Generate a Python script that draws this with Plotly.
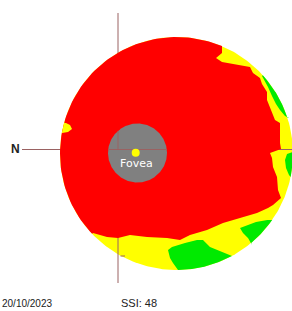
import numpy as np
import plotly.graph_objects as go

# ---- scan geometry (map units = reference image pixels, y downward) ----
SCAN_CENTER = (176.5, 153.5)
SCAN_RADIUS = 116.5

# ---- thickness-map regions (boundaries) ----
# red (below normal) region: inner boundary, from the top edge clockwise to the lower-left edge
RED_X = [219, 222, 222, 216, 222, 240, 250, 253, 260, 262, 267, 267, 270, 275, 280, 280, 281,
         270, 272, 273, 277, 278, 281, 273, 268, 257, 240, 223, 207, 190, 180, 167, 147, 130,
         118, 107, 93]
RED_Y = [45, 46, 53, 58, 62, 65, 67, 73, 78, 84, 92, 100, 108, 120, 123, 143, 149,
         153, 158, 167, 177, 190, 198, 205, 208, 213, 218, 223, 230, 235, 240, 238, 237, 235,
         238, 237, 233]

# green (normal) patches
GREEN_TR_X = [262, 265, 268, 272, 276, 280, 285, 289]
GREEN_TR_Y = [76, 81, 87, 96, 104, 110, 116, 118]
GREEN_R_X = [292.5, 287, 285, 286, 289, 290.5]
GREEN_R_Y = [152, 154, 160, 168, 175, 177]
GREEN_BR_X = [273, 256, 240, 243, 248, 252]
GREEN_BR_Y = [219, 222, 228, 233, 238, 245]
GREEN_B_X = [232, 225, 218, 210, 203, 197, 185, 172, 168, 170, 173, 176, 178]
GREEN_B_Y = [256, 253, 250, 247, 240, 240, 243, 247, 250, 258, 263, 268, 270]

# small yellow notch on the nasal edge
NOTCH_X = [64, 70, 72, 68, 62]
NOTCH_Y = [122, 125, 129, 132, 133]

# fovea
FOVEA_CENTER = (137.5, 153)
FOVEA_RADIUS = 29.5
FOVEA_DOT = (135.7, 152.8)

# crosshair
CROSS_X = 118
CROSS_Y = 149.5
CROSS_V_SPAN = (13, 283)
CROSS_H_SPAN = (22, 292)
TICK_X = (120.5, 125)
TICK_Y = 256

# labels
DATE_TEXT = "20/10/2023"
SSI_TEXT = "SSI: 48"
SIDE_LABEL = "N"

RED = "#ff0000"
YELLOW = "#ffff00"
GREEN = "#00ea00"
GRAY = "#808080"
LINE = "#9a6262"

CX, CY = SCAN_CENTER
R = SCAN_RADIUS


def ang(p):
    return np.degrees(np.arctan2(p[1] - CY, p[0] - CX))


def arc(p_from, p_to, direction, n=90):
    a0, a1 = ang(p_from), ang(p_to)
    span = (a1 - a0) % 360 if direction > 0 else -((a0 - a1) % 360)
    t = np.radians(np.linspace(a0, a0 + span, n))
    return list(CX + R * np.cos(t)), list(CY + R * np.sin(t))


def region(xs, ys, direction):
    ax, ay = arc((xs[-1], ys[-1]), (xs[0], ys[0]), direction)
    return list(xs) + ax, list(ys) + ay


def poly(x, y, color):
    return go.Scatter(x=x, y=y, mode="lines", fill="toself", fillcolor=color,
                      line=dict(width=0, color=color), hoverinfo="skip")


fig = go.Figure()

# whole scan disk (yellow background)
t = np.linspace(0, 2 * np.pi, 361)
fig.add_trace(poly(list(CX + R * np.cos(t)), list(CY + R * np.sin(t)), YELLOW))

# green patches
for gx, gy in [(GREEN_TR_X, GREEN_TR_Y), (GREEN_R_X, GREEN_R_Y),
               (GREEN_BR_X, GREEN_BR_Y), (GREEN_B_X, GREEN_B_Y)]:
    x, y = region(gx, gy, -1)
    fig.add_trace(poly(x, y, GREEN))

# crosshair (drawn beneath the red region)
fig.add_trace(go.Scatter(
    x=[CROSS_X, CROSS_X, None, CROSS_H_SPAN[0], CROSS_H_SPAN[1], None, TICK_X[0], TICK_X[1]],
    y=[CROSS_V_SPAN[0], CROSS_V_SPAN[1], None, CROSS_Y, CROSS_Y, None, TICK_Y, TICK_Y],
    mode="lines", line=dict(color=LINE, width=1), hoverinfo="skip"))

# red region
x, y = region(RED_X, RED_Y, +1)
fig.add_trace(poly(x, y, RED))

# yellow notch
x, y = region(NOTCH_X, NOTCH_Y, +1)
fig.add_trace(poly(x, y, YELLOW))

# fovea disk
fx, fy = FOVEA_CENTER
fig.add_trace(poly(list(fx + FOVEA_RADIUS * np.cos(t)), list(fy + FOVEA_RADIUS * np.sin(t)), GRAY))

# crosshair inside fovea
half = np.sqrt(FOVEA_RADIUS ** 2 - (CROSS_Y - fy) ** 2)
top = fy - np.sqrt(FOVEA_RADIUS ** 2 - (CROSS_X - fx) ** 2)
fig.add_trace(go.Scatter(
    x=[fx - half, fx + half, None, CROSS_X, CROSS_X],
    y=[CROSS_Y, CROSS_Y, None, top, CROSS_Y],
    mode="lines", line=dict(color=LINE, width=1), hoverinfo="skip"))

# fovea dot
fig.add_trace(go.Scatter(x=[FOVEA_DOT[0]], y=[FOVEA_DOT[1]], mode="markers",
                         marker=dict(size=8, color=YELLOW, line=dict(width=0)), hoverinfo="skip"))

annotations = [
    dict(x=fx - 1.5, y=163.7, text="Fovea", showarrow=False, xanchor="center", yanchor="middle",
         font=dict(family="DejaVu Sans", size=11, color="white")),
    dict(x=15.7, y=148.5, text="<b>" + SIDE_LABEL + "</b>", showarrow=False, xanchor="center",
         yanchor="middle", font=dict(family="Liberation Sans", size=12, color="#222222")),
    dict(x=0, y=303.3, text=DATE_TEXT, showarrow=False, xanchor="left", yanchor="middle",
         font=dict(family="Liberation Sans", size=10, color="#222222")),
    dict(x=118.5, y=303.3, text=SSI_TEXT, showarrow=False, xanchor="left", yanchor="middle",
         font=dict(family="Liberation Sans", size=11, color="#222222")),
]

fig.update_layout(
    width=292, height=311, margin=dict(l=0, r=0, t=0, b=0),
    paper_bgcolor="white", plot_bgcolor="white", showlegend=False,
    xaxis=dict(range=[0, 292], visible=False, fixedrange=True),
    yaxis=dict(range=[311, 0], visible=False, fixedrange=True),
    annotations=annotations,
)

fig.write_html("out.html", config={"displayModeBar": False, "staticPlot": True},
               post_script="document.body.style.margin='0';")
